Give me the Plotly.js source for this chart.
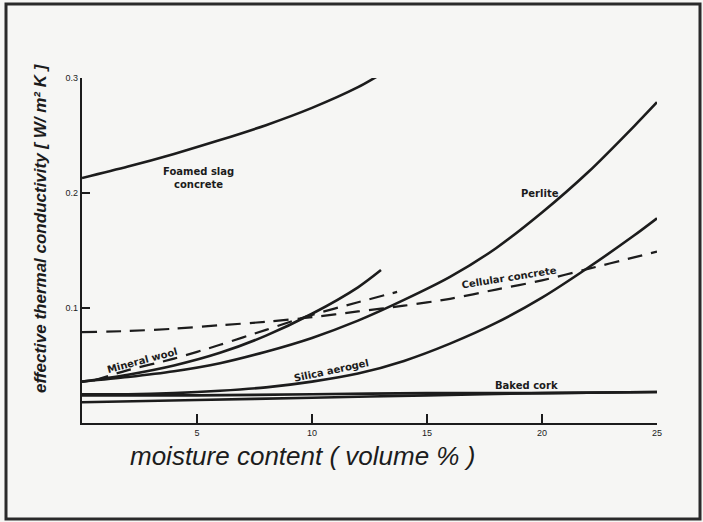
<!DOCTYPE html>
<html>
<head>
<meta charset="utf-8">
<script src="https://cdn.plot.ly/plotly-3.0.1.min.js"></script>
<style>html,body{margin:0;padding:0;background:#f6f6f4;}#chart{width:703px;height:522px;}</style>
</head>
<body>
<div id="chart"></div>
<script>
// moisture content (volume %) and effective thermal conductivity (W/m K)
const foamedX = [0, 2, 4, 6, 8, 10, 12, 12.8];
const foamedY = [0.213, 0.223, 0.234, 0.246, 0.259, 0.274, 0.292, 0.301];

const mineralX = [0, 2, 4, 6, 8, 10, 12, 13];
const mineralY = [0.036, 0.042, 0.050, 0.061, 0.076, 0.095, 0.118, 0.133];

const mineralDashX = [0.5, 2, 4, 6, 8, 10, 12, 13.7];
const mineralDashY = [0.037, 0.046, 0.056, 0.068, 0.081, 0.094, 0.105, 0.114];

const perliteX = [0, 2, 4, 6, 8, 10, 12, 14, 16, 18, 20, 22, 24, 25];
const perliteY = [0.036, 0.040, 0.045, 0.052, 0.062, 0.074, 0.089, 0.107, 0.127, 0.152, 0.183, 0.218, 0.258, 0.279];

const silicaX = [0, 2, 4, 6, 8, 10, 12, 14, 16, 18, 20, 22, 24, 25];
const silicaY = [0.025, 0.025, 0.026, 0.028, 0.031, 0.036, 0.043, 0.054, 0.069, 0.087, 0.109, 0.135, 0.163, 0.178];

const cellularX = [0, 2, 4, 6, 8, 10, 12, 14, 16, 18, 20, 22, 24, 25];
const cellularY = [0.079, 0.080, 0.082, 0.085, 0.088, 0.092, 0.097, 0.102, 0.108, 0.116, 0.124, 0.134, 0.144, 0.149];

const corkX = [0, 5, 10, 15, 20, 25];
const corkY = [0.024, 0.024, 0.025, 0.026, 0.026, 0.027];
const corkLowY = [0.018, 0.020, 0.022, 0.024, 0.026, 0.027];

const xTickVals = [5, 10, 15, 20, 25];
const xTickText = ['5', '10', '15', '20', '25'];
const yTickVals = [0.1, 0.2, 0.3];
const yTickText = ['0.1', '0.2', '0.3'];

const ink = '#1c1c1c';
function solid(x, y, name) {
  return {x: x, y: y, name: name, mode: 'lines', type: 'scatter', cliponaxis: false,
    line: {color: ink, width: 2.6, shape: 'spline', smoothing: 0.8}, hoverinfo: 'name'};
}
function dashed(x, y, name) {
  return {x: x, y: y, name: name, mode: 'lines', type: 'scatter', cliponaxis: false,
    line: {color: ink, width: 2.2, shape: 'spline', smoothing: 0.8, dash: '15px,9px'}, hoverinfo: 'name'};
}

const traces = [
  solid(foamedX, foamedY, 'Foamed slag concrete'),
  solid(mineralX, mineralY, 'Mineral wool'),
  dashed(mineralDashX, mineralDashY, 'Mineral wool (dashed)'),
  solid(perliteX, perliteY, 'Perlite'),
  solid(silicaX, silicaY, 'Silica aerogel'),
  dashed(cellularX, cellularY, 'Cellular concrete'),
  solid(corkX, corkY, 'Baked cork'),
  solid(corkX, corkLowY, 'Baked cork (lower)')
];

const lblFont = {family: 'DejaVu Sans, Arial, sans-serif', size: 10, color: ink};
function lbl(text, x, y, angle) {
  return {text: '<b>' + text + '</b>', xref: 'paper', yref: 'paper', x: x, y: y,
    showarrow: false, font: lblFont, textangle: angle || 0, xanchor: 'center', yanchor: 'middle'};
}
// pixel -> paper helpers for plot area l=82, r=657, t=78, b=423
const px = p => (p - 82) / 575;
const py = p => (423 - p) / 345;

const layout = {
  width: 703, height: 522,
  margin: {l: 82, r: 46, t: 78, b: 99},
  paper_bgcolor: '#f6f6f4', plot_bgcolor: '#f6f6f4',
  showlegend: false,
  font: {family: 'Liberation Sans, Arial, sans-serif', color: ink},
  xaxis: {
    range: [0, 25], showline: true, linecolor: ink, linewidth: 2.2, showgrid: false, zeroline: false,
    ticks: 'inside', ticklen: 9, tickwidth: 1.6, tickcolor: ink,
    tickvals: xTickVals, ticktext: xTickText, tickfont: {size: 9, color: ink}, fixedrange: true
  },
  yaxis: {
    range: [0, 0.3], showline: true, linecolor: ink, linewidth: 2.2, showgrid: false, zeroline: false,
    ticks: 'inside', ticklen: 8, tickwidth: 1.6, tickcolor: ink,
    tickvals: yTickVals, ticktext: yTickText, tickfont: {size: 9, color: ink}, fixedrange: true
  },
  shapes: [
    {type: 'rect', xref: 'paper', yref: 'paper', x0: px(6), x1: px(700), y0: py(519), y1: py(4),
     line: {color: '#2a2a2a', width: 3}, fillcolor: 'rgba(0,0,0,0)'}
  ],
  annotations: [
    {text: '<i>moisture content ( volume % )</i>', xref: 'paper', yref: 'paper', x: px(302), y: py(456),
     showarrow: false, font: {family: 'Liberation Sans, Arial, sans-serif', size: 26, color: ink},
     xanchor: 'center', yanchor: 'middle'},
    {text: '<b><i>effective thermal conductivity [ W/ m² K ]</i></b>', xref: 'paper', yref: 'paper',
     x: px(40), y: py(228), textangle: -90, showarrow: false,
     font: {family: 'Liberation Sans, Arial, sans-serif', size: 17, color: ink},
     xanchor: 'center', yanchor: 'middle'},
    lbl('Foamed slag<br>concrete', px(198), py(178), 0),
    lbl('Perlite', px(540), py(193), 0),
    lbl('Cellular concrete', px(509), py(277), -9),
    lbl('Mineral wool', px(142), py(360), -15),
    lbl('Silica aerogel', px(331), py(370), -12),
    lbl('Baked cork', px(526), py(385), 0)
  ]
};

Plotly.newPlot('chart', traces, layout, {displayModeBar: false, staticPlot: true});
</script>
</body>
</html>
